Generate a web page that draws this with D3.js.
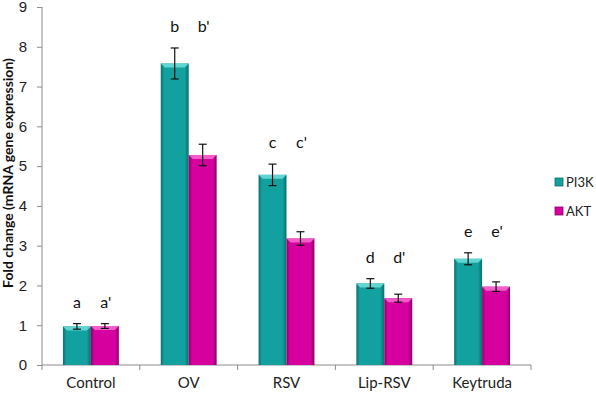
<!DOCTYPE html>
<html lang="en">
<head>
<meta charset="UTF-8">
<title>PI3K / AKT fold change</title>
<script src="https://cdnjs.cloudflare.com/ajax/libs/d3/7.8.5/d3.min.js"></script>
<style>
    html, body { margin: 0; padding: 0; background: #fff; }
    svg { display: block; font-family: Lato, "Open Sans", sans-serif; }
    .axis path, .axis line { stroke: #8c8c8c; }
    .axis text { font-size: 15px; fill: #222; }
    .letter { font-size: 16px; fill: #111; text-anchor: middle; }
</style>
</head>
<body>
<div id="chart"></div>
<script>
    const categories = ["Control", "OV", "RSV", "Lip-RSV", "Keytruda"];
    const series = ["PI3K", "AKT"];
    const pi3k = [0.97, 7.58, 4.78, 2.05, 2.67];
    const pi3kErr = [0.07, 0.39, 0.27, 0.12, 0.15];
    const akt = [0.98, 5.28, 3.18, 1.68, 1.97];
    const aktErr = [0.06, 0.27, 0.17, 0.10, 0.12];
    const lettersPI3K = ["a", "b", "c", "d", "e"];
    const lettersAKT = ["a'", "b'", "c'", "d'", "e'"];
    const yTicks = [0, 1, 2, 3, 4, 5, 6, 7, 8, 9];

    const colors = {
        PI3K: { base: "#12a19e", light: "#5fd6d2", dark: "#0b6f6d" },
        AKT: { base: "#d6009e", light: "#f25ccb", dark: "#8f006a" }
    };

    const width = 596, height = 394;
    const margin = { top: 7, right: 65, bottom: 29, left: 42 };

    const svg = d3.select("#chart").append("svg")
        .attr("width", width)
        .attr("height", height);

    const defs = svg.append("defs");
    series.forEach(s => {
        const g = defs.append("linearGradient")
            .attr("id", "grad-" + s)
            .attr("x1", "0%").attr("x2", "100%");
        g.append("stop").attr("offset", "0%").attr("stop-color", colors[s].dark);
        g.append("stop").attr("offset", "12%").attr("stop-color", colors[s].base);
        g.append("stop").attr("offset", "85%").attr("stop-color", colors[s].base);
        g.append("stop").attr("offset", "100%").attr("stop-color", colors[s].dark);
    });

    const x = d3.scaleBand()
        .domain(categories)
        .range([margin.left, width - margin.right])
        .paddingInner(0)
        .paddingOuter(0);

    const xInner = d3.scaleBand()
        .domain(series)
        .range([0, x.bandwidth()])
        .paddingOuter(0.75)
        .paddingInner(0);

    const y = d3.scaleLinear()
        .domain([0, 9])
        .range([height - margin.bottom, margin.top]);

    // axes
    svg.append("g")
        .attr("class", "axis")
        .attr("transform", `translate(${margin.left},0)`)
        .call(d3.axisLeft(y).tickValues(yTicks).tickSize(5).tickPadding(10))
        .call(g => g.select(".domain").attr("d", `M0,${y(0)}V${y(9)}`));

    const xAxis = svg.append("g")
        .attr("class", "axis")
        .attr("transform", `translate(0,${y(0)})`);
    xAxis.append("line")
        .attr("x1", margin.left).attr("x2", width - margin.right)
        .attr("stroke", "#8c8c8c");
    xAxis.selectAll(".tk")
        .data(d3.range(categories.length + 1))
        .join("line")
        .attr("x1", i => margin.left + i * x.step())
        .attr("x2", i => margin.left + i * x.step())
        .attr("y1", 0).attr("y2", 5)
        .attr("stroke", "#8c8c8c");
    xAxis.selectAll("text")
        .data(categories)
        .join("text")
        .attr("x", d => x(d) + x.bandwidth() / 2)
        .attr("y", 23)
        .attr("text-anchor", "middle")
        .text(d => d);

    // bars
    const rows = categories.map((c, i) => ({
        cat: c,
        vals: [
            { s: "PI3K", v: pi3k[i], e: pi3kErr[i], l: lettersPI3K[i] },
            { s: "AKT", v: akt[i], e: aktErr[i], l: lettersAKT[i] }
        ]
    }));

    const grp = svg.append("g").selectAll("g")
        .data(rows)
        .join("g")
        .attr("transform", d => `translate(${x(d.cat)},0)`);

    const bar = grp.selectAll("g.bar")
        .data(d => d.vals)
        .join("g")
        .attr("class", "bar");

    bar.append("rect")
        .attr("x", d => xInner(d.s))
        .attr("y", d => y(d.v))
        .attr("width", xInner.bandwidth())
        .attr("height", d => y(0) - y(d.v))
        .attr("fill", d => `url(#grad-${d.s})`);

    // bevel on top
    bar.append("path")
        .attr("d", d => {
            const x0 = xInner(d.s), w = xInner.bandwidth(), t = y(d.v);
            return `M${x0},${t}H${x0 + w}L${x0 + w - 4},${t + 4}H${x0 + 4}Z`;
        })
        .attr("fill", d => colors[d.s].light);

    // error bars
    const eb = bar.append("g").attr("stroke", "#111").attr("stroke-width", 1.2);
    eb.append("line")
        .attr("x1", d => xInner(d.s) + xInner.bandwidth() / 2)
        .attr("x2", d => xInner(d.s) + xInner.bandwidth() / 2)
        .attr("y1", d => y(d.v + d.e))
        .attr("y2", d => y(d.v - d.e));
    ["+", "-"].forEach(sign => {
        eb.append("line")
            .attr("x1", d => xInner(d.s) + xInner.bandwidth() / 2 - 4)
            .attr("x2", d => xInner(d.s) + xInner.bandwidth() / 2 + 4)
            .attr("y1", d => y(sign === "+" ? d.v + d.e : d.v - d.e))
            .attr("y2", d => y(sign === "+" ? d.v + d.e : d.v - d.e));
    });

    // significance letters
    grp.each(function (d) {
        const top = d.vals[0].v + d.vals[0].e;
        d3.select(this).selectAll("text.letter")
            .data(d.vals)
            .join("text")
            .attr("class", "letter")
            .attr("x", v => xInner(v.s) + xInner.bandwidth() / 2 + (v.s === "AKT" ? 1 : 0))
            .attr("y", y(top) - 16)
            .text(v => v.l);
    });

    // legend
    const legend = svg.append("g").attr("transform", "translate(555,0)");
    series.forEach((s, i) => {
        const ly = 182 + i * 29;
        legend.append("rect")
            .attr("x", 0).attr("y", ly - 4)
            .attr("width", 8).attr("height", 8)
            .attr("fill", colors[s].base)
            .attr("stroke", colors[s].dark).attr("stroke-width", 0.8);
        legend.append("text")
            .attr("x", 11).attr("y", ly + 5)
            .attr("font-size", 13)
            .attr("fill", "#222")
            .text(s);
    });

    // y title
    svg.append("text")
        .attr("transform", `translate(13,173) rotate(-90)`)
        .attr("text-anchor", "middle")
        .attr("font-size", 14)
        .attr("font-weight", "bold")
        .attr("fill", "#111")
        .text("Fold change (mRNA gene expression)");
</script>
</body>
</html>
